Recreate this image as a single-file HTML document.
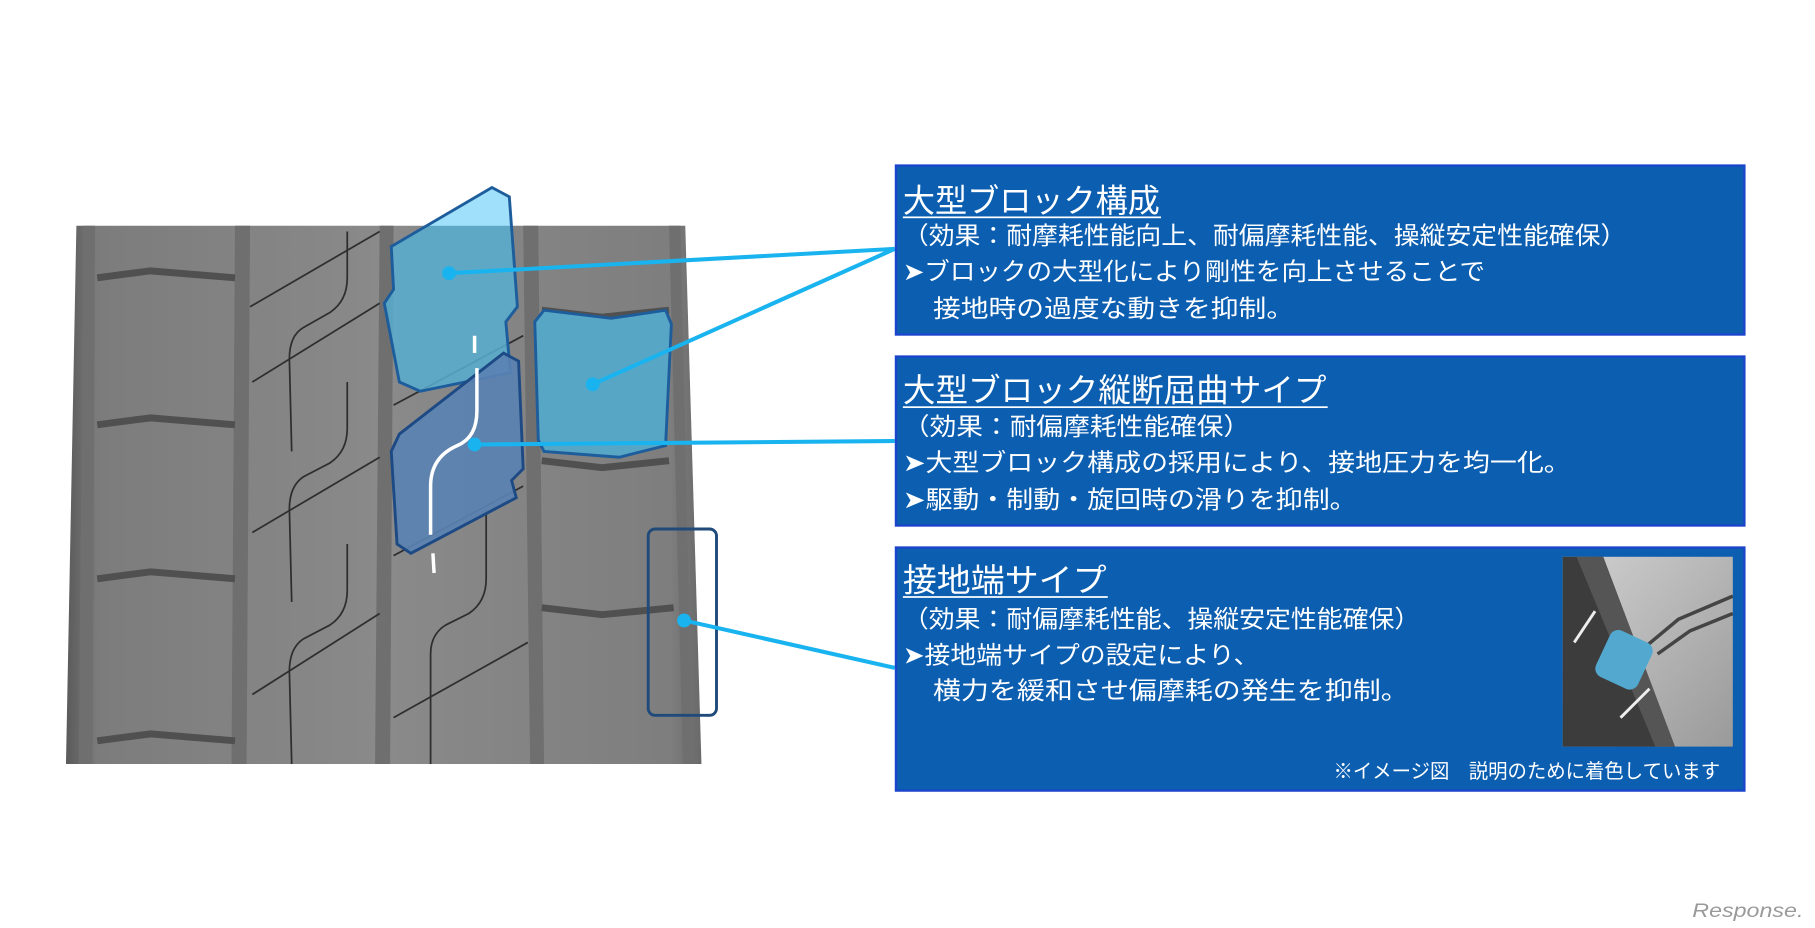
<!DOCTYPE html>
<html><head><meta charset="utf-8"><style>
html,body{margin:0;padding:0;background:#fff;}
svg{display:block;}
text{font-family:"Liberation Sans","Noto Sans CJK JP",sans-serif;fill:#fff;}
</style></head><body>
<svg width="1815" height="928" viewBox="0 0 1568 801.7" xmlns="http://www.w3.org/2000/svg">
<defs>
<linearGradient id="tg" x1="0" x2="1" y1="0" y2="0">
<stop offset="0" stop-color="#5a5a5a"/><stop offset="0.05" stop-color="#7c7c7c"/>
<stop offset="0.5" stop-color="#8a8a8a"/><stop offset="0.95" stop-color="#7e7e7e"/><stop offset="1" stop-color="#6a6a6a"/>
</linearGradient>
<linearGradient id="ig" x1="0" x2="1" y1="0" y2="1">
<stop offset="0" stop-color="#d0d0d0"/><stop offset="1" stop-color="#9a9a9a"/>
</linearGradient>
<clipPath id="topc"><rect x="300" y="150" width="200" height="45"/></clipPath>
</defs>
<!-- tire -->
<polygon points="66,195 592,195 606,660 57,660" fill="url(#tg)"/>
<g fill="#6f6f6f">
<polygon points="72,195 82,195 80,660 68,660"/>
<polygon points="203,195 216,195 213,660 200,660"/>
<polygon points="328,195 340,195 337,660 324,660"/>
<polygon points="452,195 465,195 470,660 458,660"/>
<polygon points="578,195 588,195 598,660 590,660"/>
</g>
<g stroke="#505050" stroke-width="6" fill="none">
<path d="M84,240 L130,234 L203,240"/><path d="M84,367 L130,361 L203,367"/>
<path d="M84,500 L130,494 L203,500"/><path d="M84,640 L130,634 L203,640"/>
<path d="M468,268 L520,274 L578,268"/><path d="M468,398 L520,404 L578,398"/>
<path d="M468,525 L520,531 L582,525"/>
</g>
<g stroke="#2e2e2e" stroke-width="1.5" fill="none">
<path d="M216,265 L328,200"/><path d="M218,330 L328,262"/><path d="M218,460 L328,395"/><path d="M218,600 L328,530"/>
<path d="M340,350 L452,290"/><path d="M340,480 L452,420"/><path d="M340,620 L456,555"/>
<path d="M300,200 L300,240 Q300,260 285,270 L262,283 Q250,290 250,310 L252,390 M300,330 L300,370 Q300,390 285,400 L262,412 Q250,420 250,440 L252,520 M300,470 L300,510 Q300,530 285,540 L262,552 Q250,560 250,580 L252,660"/>
<path d="M420,440 L420,500 Q420,520 405,530 L385,540 Q372,548 372,565 L372,660"/>
</g>
<!-- overlays -->
<polygon points="340,250 338,213 425,162 440,170 447,265 437,278 441,322 363,338 345,330 332,262" fill="#58aed0" fill-opacity="0.85"/>
<polygon points="340,250 338,213 425,162 440,170 447,265 437,278 441,322 363,338 345,330 332,262" fill="#a0e0fa" clip-path="url(#topc)"/>
<polygon points="340,250 338,213 425,162 440,170 447,265 437,278 441,322 363,338 345,330 332,262" fill="none" stroke="#1d5d9c" stroke-width="2.5"/>
<polygon points="462,278 470,268 528,275 575,268 580,280 575,385 535,395 470,390 465,380" fill="#58a6c6" stroke="#1d5d9c" stroke-width="2.5"/>
<polygon points="345,375 435,305 448,312 452,405 442,415 446,430 355,478 343,470 338,390" fill="#5a82b2" fill-opacity="0.92" stroke="#1d4a84" stroke-width="2.5"/>
<path d="M410,290 L410,305 M412,318 L412,355 Q412,378 395,385 Q372,395 372,420 L372,462 M374,478 L375,495" stroke="#fff" stroke-width="3" fill="none"/>
<rect x="560" y="457" width="59" height="161" rx="6" fill="none" stroke="#1f4a7a" stroke-width="2.5"/>
<!-- connectors -->
<g stroke="#19b4ef" stroke-width="3.5" fill="none">
<path d="M773,215 L388,236"/><path d="M773,215 L512,332"/>
<path d="M773,381 L410,384"/><path d="M773,577 L591,536"/>
</g>
<g fill="#19b4ef"><circle cx="388" cy="236" r="6"/><circle cx="512" cy="332" r="6"/><circle cx="410" cy="384" r="6"/><circle cx="591" cy="536" r="6"/></g>
<!-- boxes -->
<g fill="#0b5eb0" stroke="#1a44cc" stroke-width="2">
<rect x="774" y="143" width="733" height="146"/>
<rect x="774" y="308" width="733" height="146"/>
<rect x="774" y="473" width="733" height="210"/>
</g>
<!-- box1 -->
<text x="780" y="183" font-size="28" textLength="222" lengthAdjust="spacingAndGlyphs">大型ブロック構成</text>
<rect x="780" y="187" width="223" height="1.5" fill="#fff"/>
<text x="780" y="211" font-size="21" textLength="625" lengthAdjust="spacingAndGlyphs">（効果：耐摩耗性能向上、耐偏摩耗性能、操縦安定性能確保）</text>
<text x="780" y="242" font-size="21" textLength="503" lengthAdjust="spacingAndGlyphs">➤ブロックの大型化により剛性を向上させることで</text>
<text x="806" y="274" font-size="21" textLength="312" lengthAdjust="spacingAndGlyphs">接地時の過度な動きを抑制。</text>
<!-- box2 -->
<text x="780" y="347" font-size="28" textLength="366" lengthAdjust="spacingAndGlyphs">大型ブロック縦断屈曲サイプ</text>
<rect x="780" y="351" width="367" height="1.5" fill="#fff"/>
<text x="780" y="376" font-size="21" textLength="300" lengthAdjust="spacingAndGlyphs">（効果：耐偏摩耗性能確保）</text>
<text x="780" y="407" font-size="21" textLength="577" lengthAdjust="spacingAndGlyphs">➤大型ブロック構成の採用により、接地圧力を均一化。</text>
<text x="780" y="439" font-size="21" textLength="392" lengthAdjust="spacingAndGlyphs">➤駆動・制動・旋回時の滑りを抑制。</text>
<!-- box3 -->
<text x="780" y="511" font-size="28" textLength="176" lengthAdjust="spacingAndGlyphs">接地端サイプ</text>
<rect x="780" y="515" width="177" height="1.5" fill="#fff"/>
<text x="780" y="542" font-size="21" textLength="447" lengthAdjust="spacingAndGlyphs">（効果：耐偏摩耗性能、操縦安定性能確保）</text>
<text x="780" y="573" font-size="21" textLength="308" lengthAdjust="spacingAndGlyphs">➤接地端サイプの設定により、</text>
<text x="806" y="604" font-size="21" textLength="411" lengthAdjust="spacingAndGlyphs">横力を緩和させ偏摩耗の発生を抑制。</text>
<text x="1152" y="672" font-size="17" textLength="334" lengthAdjust="spacingAndGlyphs">※イメージ図　説明のために着色しています</text>
<!-- inset image -->
<rect x="1350" y="481" width="147" height="164" fill="url(#ig)"/>
<polygon points="1350,481 1385,481 1447,645 1350,645" fill="#3c3c3c"/>
<polygon points="1362,481 1385,481 1447,645 1430,645" fill="#555"/>
<path d="M1420,560 L1450,535 L1497,515 M1432,565 L1460,545 L1497,530" stroke="#444" stroke-width="3" fill="none"/>
<path d="M1360,555 L1378,528 M1400,620 L1425,595" stroke="#eee" stroke-width="2.5" fill="none"/>
<rect x="1383" y="548" width="40" height="44" rx="8" transform="rotate(25 1403 570)" fill="#52a8cf"/>
<!-- logo -->
<text x="1462" y="792" font-size="17" font-style="italic" style="fill:#9a9a9a" textLength="96" lengthAdjust="spacingAndGlyphs">Response.</text>
</svg>
</body></html>
